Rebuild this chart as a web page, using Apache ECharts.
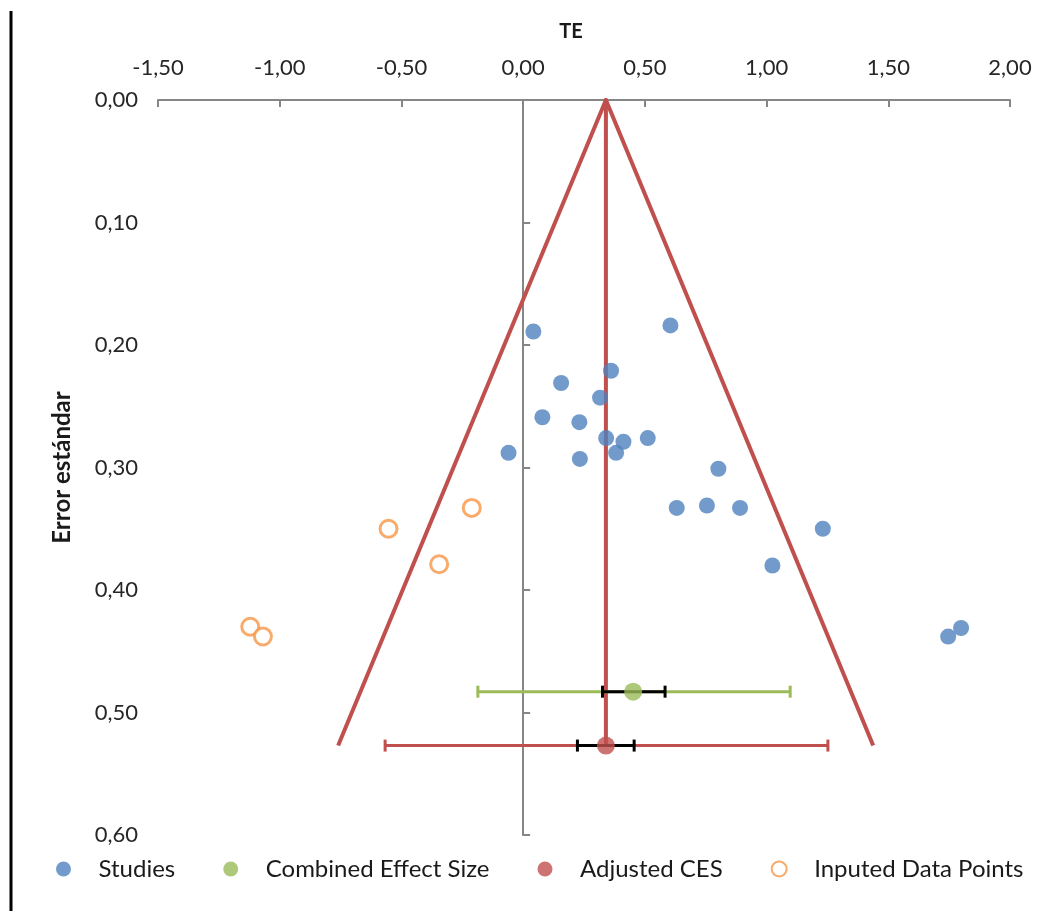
<!DOCTYPE html>
<html>
<head>
<meta charset="utf-8">
<title>TE / Error estándar</title>
<script src="https://cdn.jsdelivr.net/npm/echarts@6/dist/echarts.min.js"></script>
<style>
  html, body { margin: 0; padding: 0; background: #ffffff; }
  #chart { width: 1043px; height: 911px; }
</style>
</head>
<body>
<div id="chart"></div>
<script>
// Individual studies: [TE, standard error]
const studies = [
  [0.042, 0.189], [0.605, 0.184], [0.361, 0.221], [0.156, 0.231],
  [0.316, 0.243], [0.079, 0.259], [0.231, 0.263], [0.341, 0.276],
  [0.412, 0.279], [0.512, 0.276], [-0.060, 0.288], [0.233, 0.293],
  [0.382, 0.288], [0.802, 0.301], [0.631, 0.333], [0.755, 0.331],
  [0.891, 0.333], [1.231, 0.350], [1.024, 0.380], [1.746, 0.438],
  [1.799, 0.431]
];
// Trim-and-fill imputed studies: [TE, standard error]
const imputed = [
  [-0.211, 0.333], [-0.553, 0.350], [-0.345, 0.379],
  [-1.121, 0.430], [-1.069, 0.438]
];
// Combined effect size: point, outer interval, inner interval
const combinedPoint = [[0.452, 0.483]];
const combinedOuter = [[-0.186, 1.097, 0.483]];
const combinedInner = [[0.326, 0.583, 0.483]];
// Adjusted combined effect size
const adjustedPoint = [[0.340, 0.527]];
const adjustedOuter = [[-0.567, 1.252, 0.527]];
const adjustedInner = [[0.223, 0.456, 0.527]];
// Funnel outline and centre line
const funnelEdges = [[-0.760, 0.527], [0.340, 0.000], [1.438, 0.527]];
const funnelCentre = [[0.340, 0.000], [0.340, 0.527]];

const fmt = v => v.toFixed(2).replace('.', ',');
const FONT = 'Lato';
const BLUE = '#4F81BD', GREEN = '#9BBB59', RED = '#C0504D', ORANGE = '#F79646';

// Horizontal interval with end caps
function intervalSeries(name, data, color, width, z) {
  return {
    name: name,
    type: 'custom',
    z: z,
    silent: true,
    encode: { x: [0, 1], y: 2 },
    data: data,
    renderItem: function (params, api) {
      const a = api.coord([api.value(0), api.value(2)]);
      const b = api.coord([api.value(1), api.value(2)]);
      const h = 6;
      const st = { stroke: color, lineWidth: width };
      return {
        type: 'group',
        children: [
          { type: 'line', shape: { x1: a[0], y1: a[1], x2: b[0], y2: b[1] }, style: st },
          { type: 'line', shape: { x1: a[0], y1: a[1] - h, x2: a[0], y2: a[1] + h }, style: st },
          { type: 'line', shape: { x1: b[0], y1: b[1] - h, x2: b[0], y2: b[1] + h }, style: st }
        ]
      };
    }
  };
}

const chart = echarts.init(document.getElementById('chart'), null, { renderer: 'canvas' });

chart.setOption({
  animation: false,
  backgroundColor: '#ffffff',
  textStyle: { fontFamily: FONT },
  title: {
    text: 'TE',
    left: 566,
    top: 17,
    textAlign: 'center',
    textStyle: { fontFamily: FONT, fontSize: 20, fontWeight: 'bold', color: '#1a1a1a' }
  },
  grid: { left: 158, right: 33, top: 100, bottom: 76, containLabel: false, outerBoundsMode: 'none' },
  legend: {
    bottom: 25,
    left: 51,
    itemWidth: 60,
    itemHeight: 15,
    itemGap: 48,
    symbolKeepAspect: true,
    selectedMode: false,
    textStyle: { fontFamily: FONT, fontSize: 24, color: '#1a1a1a' },
    data: ['Studies', 'Combined Effect Size', 'Adjusted CES', 'Inputed Data Points']
  },
  graphic: [{
    type: 'line',
    shape: { x1: 11, y1: 11, x2: 11, y2: 911 },
    style: { stroke: '#000000', lineWidth: 3 }
  }],
  xAxis: {
    type: 'value',
    position: 'top',
    min: -1.5,
    max: 2.0,
    interval: 0.5,
    axisLine: { onZero: false, lineStyle: { color: '#868686', width: 2 } },
    axisTick: { show: true, inside: true, length: 7, lineStyle: { color: '#868686', width: 2 } },
    axisLabel: { formatter: fmt, fontFamily: FONT, fontSize: 22, color: '#262626', margin: 21 },
    splitLine: { show: false }
  },
  yAxis: [{
    // axis drawn through TE = 0
    type: 'value',
    inverse: true,
    min: 0,
    max: 0.6,
    interval: 0.1,
    axisLine: { show: true, onZero: true, lineStyle: { color: '#868686', width: 2 } },
    axisTick: { show: true, inside: true, length: 7, lineStyle: { color: '#868686', width: 2 } },
    axisLabel: { show: false },
    splitLine: { show: false }
  }, {
    // tick labels and title at the left edge
    type: 'value',
    position: 'left',
    inverse: true,
    min: 0,
    max: 0.6,
    interval: 0.1,
    name: 'Error estándar',
    nameLocation: 'middle',
    nameGap: 84,
    nameRotate: 90,
    nameTextStyle: { fontFamily: FONT, fontSize: 24, fontWeight: 'bold', color: '#1a1a1a' },
    axisLine: { show: false, onZero: false },
    axisTick: { show: false },
    axisLabel: { formatter: fmt, fontFamily: FONT, fontSize: 22, color: '#262626', margin: 20 },
    splitLine: { show: false }
  }],
  series: [
    {
      name: 'Funnel',
      type: 'line',
      z: 2,
      silent: true,
      symbol: 'none',
      data: funnelEdges,
      lineStyle: { color: RED, width: 4, join: 'miter' }
    },
    {
      name: 'Centre',
      type: 'line',
      z: 2,
      silent: true,
      symbol: 'none',
      data: funnelCentre,
      lineStyle: { color: RED, width: 4 }
    },
    intervalSeries('Combined interval', combinedOuter, GREEN, 3, 3),
    intervalSeries('Adjusted interval', adjustedOuter, RED, 3, 3),
    intervalSeries('Combined inner', combinedInner, '#000000', 3, 4),
    intervalSeries('Adjusted inner', adjustedInner, '#000000', 3, 4),
    {
      name: 'Studies',
      type: 'scatter',
      z: 5,
      symbol: 'circle',
      symbolSize: 16,
      data: studies,
      itemStyle: { color: BLUE }
    },
    {
      name: 'Combined Effect Size',
      type: 'scatter',
      z: 5,
      symbol: 'circle',
      symbolSize: 18,
      data: combinedPoint,
      itemStyle: { color: GREEN }
    },
    {
      name: 'Adjusted CES',
      type: 'scatter',
      z: 5,
      symbol: 'circle',
      symbolSize: 18,
      data: adjustedPoint,
      itemStyle: { color: RED }
    },
    {
      name: 'Inputed Data Points',
      type: 'scatter',
      z: 5,
      symbol: 'circle',
      symbolSize: 17,
      data: imputed,
      itemStyle: { color: '#ffffff', borderColor: ORANGE, borderWidth: 3 }
    }
  ]
});
</script>
</body>
</html>
